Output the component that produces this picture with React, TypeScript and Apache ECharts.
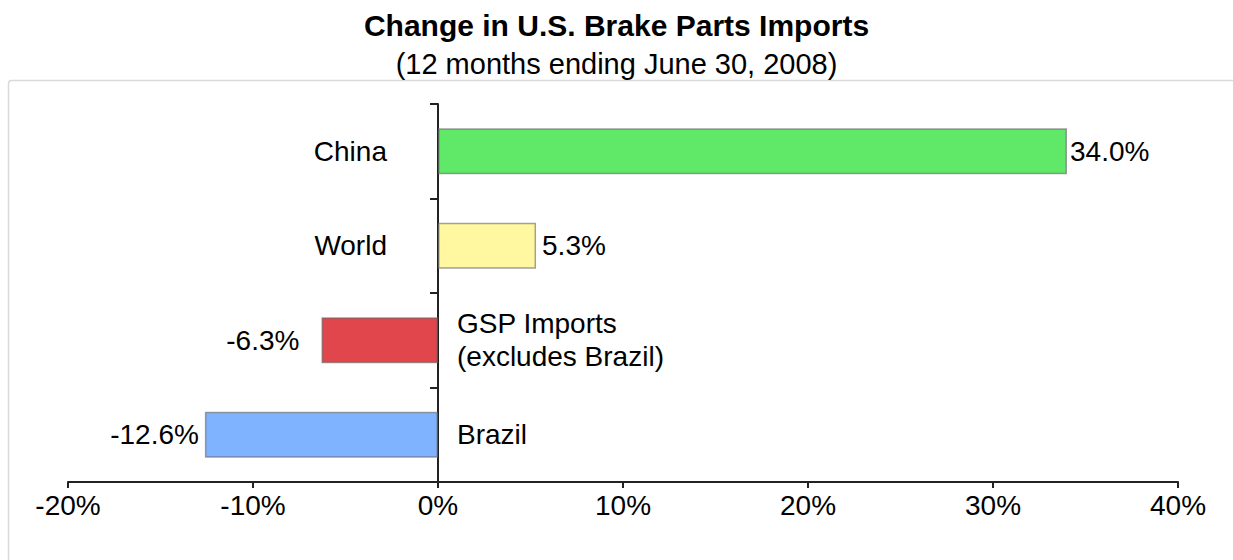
import React, { useEffect, useRef } from "react";
import * as echarts from "echarts";

const categories = ["Brazil", "GSP Imports\n(excludes Brazil)", "World", "China"];
const values = [-12.6, -6.3, 5.3, 34.0];
const barColors = ["#80b3ff", "#e0464b", "#fff8a0", "#60e868"];
const xTicks = { min: -20, max: 40, interval: 10 };
const titleText = "Change in U.S. Brake Parts Imports";
const subtitleText = "(12 months ending June 30, 2008)";

const FONT = "'Liberation Sans', Arial, sans-serif";

export default function App() {
  const ref = useRef<HTMLDivElement>(null);
  useEffect(() => {
    if (!ref.current) return;
    const chart = echarts.init(ref.current, undefined, { renderer: "svg" });
    const valueLabelDist = [6, 22, 6, 3];
    const nameLabelDist = [19, 19, 51, 51];
    chart.setOption({
      animation: false,
      backgroundColor: "#ffffff",
      textStyle: { fontFamily: FONT },
      title: [
        {
          text: titleText,
          left: "center",
          top: 5,
          textStyle: { fontFamily: FONT, fontSize: 30, fontWeight: "bold", color: "#000" },
        },
        {
          text: subtitleText,
          left: "center",
          top: 44,
          textStyle: { fontFamily: FONT, fontSize: 29, fontWeight: "normal", color: "#000" },
        },
      ],
      graphic: [
        {
          type: "rect",
          z: -10,
          silent: true,
          shape: { x: 8.5, y: 80.5, width: 1400, height: 700, r: 3 },
          style: { fill: "#ffffff", stroke: "#d9d9d9", lineWidth: 1.5 },
        },
      ],
      grid: { left: 68, right: 55, top: 104, bottom: 78, containLabel: false },
      xAxis: {
        type: "value",
        min: xTicks.min,
        max: xTicks.max,
        interval: xTicks.interval,
        splitLine: { show: false },
        axisLine: { show: true, onZero: false, lineStyle: { color: "#222", width: 2 } },
        axisTick: { show: true, length: 6, lineStyle: { color: "#222", width: 2 } },
        axisLabel: {
          margin: 9,
          fontSize: 28,
          color: "#000",
          fontFamily: FONT,
          formatter: (v: number) => `${v}%`,
        },
      },
      yAxis: {
        type: "category",
        data: categories,
        axisLine: { show: true, onZero: true, lineStyle: { color: "#222", width: 2 } },
        axisTick: { show: true, length: 8, lineStyle: { color: "#222", width: 2 } },
        axisLabel: { show: false },
        splitLine: { show: false },
      },
      series: [
        {
          type: "bar",
          barWidth: 46,
          z: 1,
          data: values.map((v, i) => ({
            value: v,
            itemStyle: {
              color: barColors[i],
              borderColor: "rgba(100,100,100,0.6)",
              borderWidth: 1.5,
            },
            label: {
              show: true,
              position: v >= 0 ? "right" : "left",
              distance: valueLabelDist[i],
              formatter: `${v.toFixed(1)}%`,
              fontSize: 28,
              color: "#000",
              fontFamily: FONT,
            },
          })),
        },
        {
          type: "bar",
          barWidth: 46,
          barGap: "-100%",
          z: 0,
          silent: true,
          data: values.map((v, i) => ({
            value: 0,
            itemStyle: { color: "rgba(0,0,0,0)" },
            label: {
              show: true,
              position: v >= 0 ? "left" : "right",
              distance: nameLabelDist[i],
              formatter: categories[i],
              fontSize: 28,
              lineHeight: 33,
              color: "#000",
              fontFamily: FONT,
            },
          })),
        },
      ],
    });
    return () => chart.dispose();
  }, []);
  return (
    <div
      ref={ref}
      style={{ position: "absolute", left: 0, top: 0, width: 1233, height: 560 }}
    />
  );
}
